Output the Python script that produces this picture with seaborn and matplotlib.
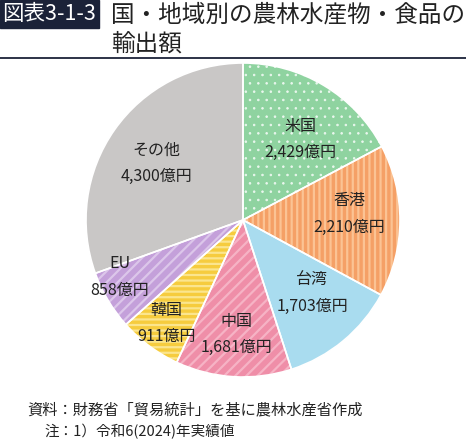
import numpy as np
import matplotlib
matplotlib.use("Agg")
import matplotlib.pyplot as plt
import seaborn as sns

categories = ["米国", "香港", "台湾", "中国", "韓国", "EU", "その他"]
values = [2429, 2210, 1703, 1681, 911, 858, 4300]
value_labels = ["2,429億円", "2,210億円", "1,703億円", "1,681億円", "911億円", "858億円", "4,300億円"]

title_tag = "図表3-1-3"
title_line1 = "国・地域別の農林水産物・食品の"
title_line2 = "輸出額"
source_note = "資料：財務省「貿易統計」を基に農林水産省作成"
note1 = "注：1）令和6(2024)年実績値"

sns.set_theme(style="white")
plt.rcParams["font.family"] = ["Noto Sans CJK JP", "DejaVu Sans"]

face_colors = sns.color_palette(["#8fd3a0", "#f5a066", "#a9dcef", "#ef8ea8",
                                 "#f6cc3e", "#c4a0da", "#c9c7c6"])
hatch_colors = ["#eaf7ee", "#fbc394", "#a9dcef", "#f6b3c5", "#fbe58e", "#dcc6ea", "#c9c7c6"]
hatches = ["..", "|||", "", "///", "---", "///", ""]
label_r = [0.63, 0.68, 0.64, 0.73, 0.82, 0.865, 0.66]
label_da = [-4.5, 3.5, 3.7, 0.0, 0.0, -6.0, 2.0]

W, H = 466, 441
fig = plt.figure(figsize=(W / 100, H / 100), dpi=100)

cx, cy, R = 243, 220, 157
ax = fig.add_axes([(cx - R) / W, (H - cy - R) / H, 2 * R / W, 2 * R / H])

wedges, _ = ax.pie(values, startangle=90, counterclock=False, colors=face_colors,
                   radius=1.0, wedgeprops=dict(linewidth=0))

for pattern_group, lw in (("dots", 0.6), ("lines", 1.6)):
    with plt.rc_context({"hatch.linewidth": lw}):
        hw, _ = ax.pie(values, startangle=90, counterclock=False, radius=1.0,
                       wedgeprops=dict(linewidth=0, fill=False))
    for w, hc, h in zip(hw, hatch_colors, hatches):
        is_dot = "." in h
        if h and ((pattern_group == "dots") == is_dot):
            w.set_edgecolor(hc)
            w.set_hatch(h)
            if hasattr(w, "set_hatch_linewidth"):
                w.set_hatch_linewidth(lw)
        else:
            w.set_visible(False)

bw, _ = ax.pie(values, startangle=90, counterclock=False, radius=1.0,
               wedgeprops=dict(linewidth=1.2, edgecolor="white", fill=False))

ax.set_xlim(-1, 1)
ax.set_ylim(-1, 1)
ax.set_aspect("equal")
ax.axis("off")

total = sum(values)
start = 90.0
for name, v, vl, rr, da in zip(categories, values, value_labels, label_r, label_da):
    span = v / total * 360.0
    mid = np.deg2rad(start - span / 2 + da)
    start -= span
    x, y = rr * np.cos(mid), rr * np.sin(mid)
    ax.text(x, y + 0.085, name, ha="center", va="center", fontsize=11.5, color="#222222")
    ax.text(x, y - 0.085, vl, ha="center", va="center", fontsize=11.5, color="#222222")

# Title block
navy = "#1b2238"
fig.patches.append(plt.Rectangle((0, 1 - 28 / H), 99 / W, 28 / H, transform=fig.transFigure,
                                 color=navy, zorder=0))
fig.text(49 / W, 1 - 14 / H, title_tag, ha="center", va="center", fontsize=15.5, color="white")
fig.text(111 / W, 1 - 15 / H, title_line1, ha="left", va="center", fontsize=17, color="#222222")
fig.text(111 / W, 1 - 44 / H, title_line2, ha="left", va="center", fontsize=17, color="#222222")
fig.add_artist(plt.Line2D([0, 1], [1 - 58 / H, 1 - 58 / H], transform=fig.transFigure,
                          color=navy, linewidth=1.3))

fig.text(27 / W, 1 - 410 / H, source_note, ha="left", va="center", fontsize=11, color="#222222")
fig.text(44 / W, 1 - 432 / H, note1, ha="left", va="center", fontsize=10.5, color="#222222")

fig.savefig("out.png", dpi=100, facecolor="white")
